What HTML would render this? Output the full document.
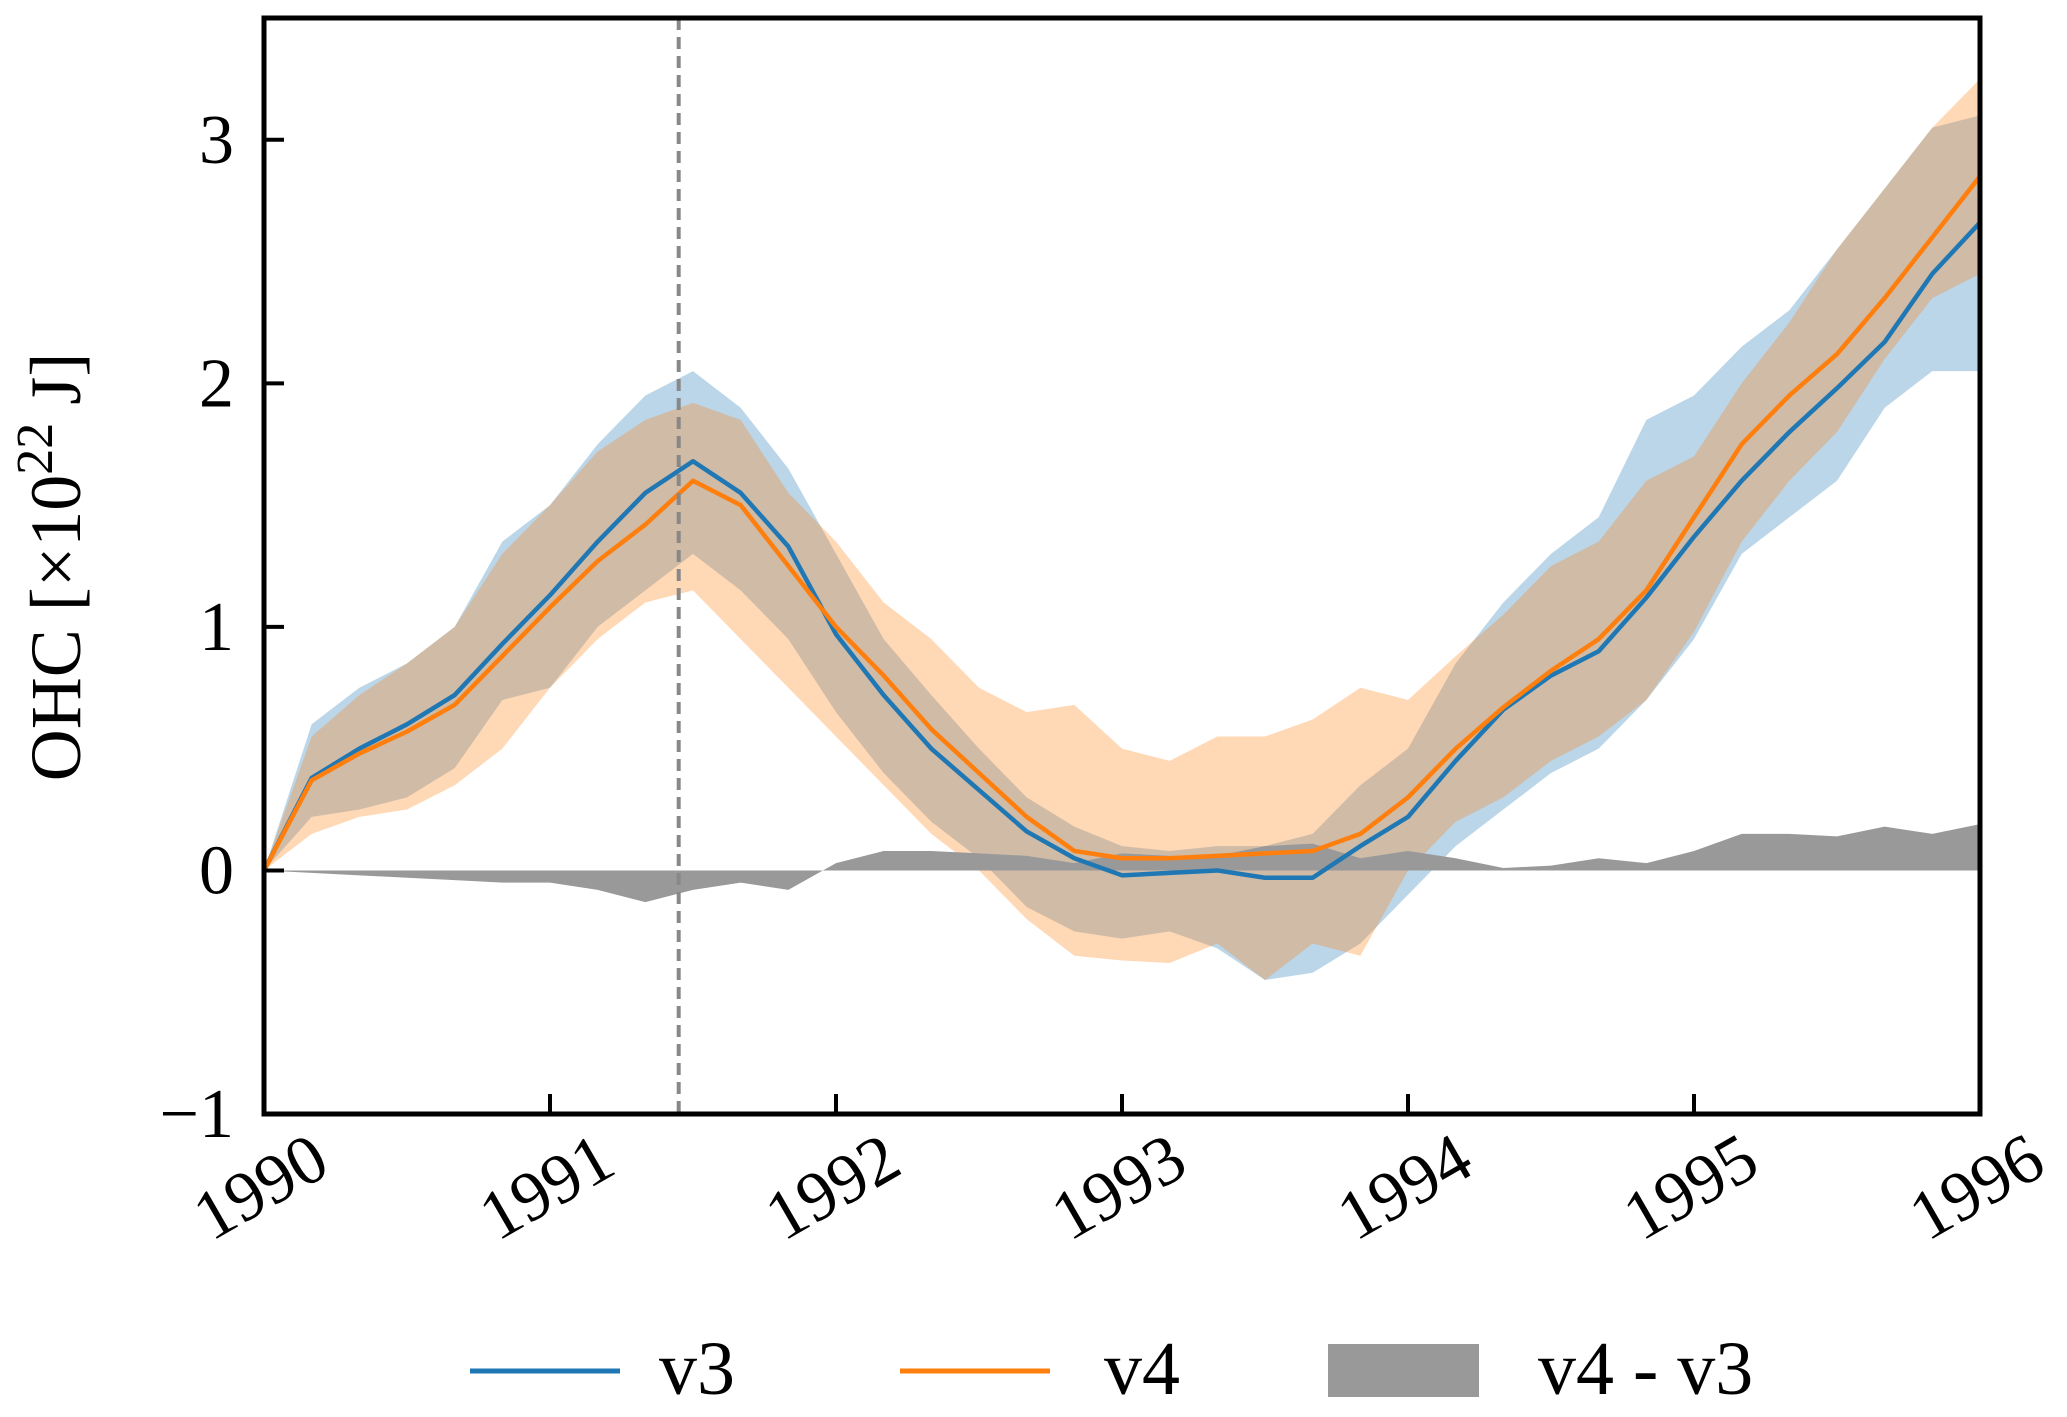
<!DOCTYPE html>
<html><head><meta charset="utf-8"><style>
html,body{margin:0;padding:0;background:#fff;}
svg{display:block;font-family:"Liberation Serif","DejaVu Serif",serif;}
</style></head><body>
<svg id="chart" width="2067" height="1417" viewBox="0 0 2067 1417" xmlns="http://www.w3.org/2000/svg">
<g id="plot"></g>
</svg>
<script>
const months = [0,2,4,6,8,10,12,14,16,18,20,22,24,26,28,30,32,34,36,38,40,42,44,46,48,50,52,54,56,58,60,62,64,66,68,70,72];
const v3 = [0,0.38,0.5,0.6,0.72,0.93,1.13,1.35,1.55,1.68,1.55,1.33,0.97,0.72,0.5,0.33,0.16,0.05,-0.02,-0.01,0.0,-0.03,-0.03,0.1,0.22,0.45,0.66,0.8,0.9,1.12,1.37,1.6,1.8,1.98,2.17,2.45,2.66];
const v4 = [0,0.37,0.48,0.57,0.68,0.88,1.08,1.27,1.42,1.6,1.5,1.25,1.0,0.8,0.58,0.4,0.22,0.08,0.05,0.05,0.06,0.07,0.08,0.15,0.3,0.5,0.67,0.82,0.95,1.15,1.45,1.75,1.95,2.12,2.35,2.6,2.85];
const v3Upper = [0,0.6,0.75,0.85,1.0,1.35,1.5,1.75,1.95,2.05,1.9,1.65,1.3,0.95,0.72,0.5,0.3,0.18,0.1,0.08,0.1,0.1,0.15,0.35,0.5,0.85,1.1,1.3,1.45,1.85,1.95,2.15,2.3,2.55,2.8,3.05,3.1];
const v3Lower = [0,0.22,0.25,0.3,0.42,0.7,0.75,1.0,1.15,1.3,1.15,0.95,0.65,0.4,0.2,0.05,-0.15,-0.25,-0.28,-0.25,-0.32,-0.45,-0.42,-0.3,-0.1,0.1,0.25,0.4,0.5,0.7,0.95,1.3,1.45,1.6,1.9,2.05,2.05];
const v4Upper = [0,0.55,0.72,0.85,1.0,1.3,1.5,1.72,1.85,1.92,1.85,1.55,1.35,1.1,0.95,0.75,0.65,0.68,0.5,0.45,0.55,0.55,0.62,0.75,0.7,0.88,1.05,1.25,1.35,1.6,1.7,2.0,2.25,2.55,2.8,3.05,3.25];
const v4Lower = [0,0.15,0.22,0.25,0.35,0.5,0.75,0.95,1.1,1.15,0.95,0.75,0.55,0.35,0.15,0.0,-0.2,-0.35,-0.37,-0.38,-0.3,-0.45,-0.3,-0.35,0.0,0.2,0.3,0.45,0.55,0.7,0.98,1.35,1.6,1.8,2.1,2.35,2.45];
const xTickLabels = ["1990","1991","1992","1993","1994","1995","1996"];
const yTicks = [-1,0,1,2,3];
const markerMonth = 17.4;

const L=264,R=1980,T=18,B=1114;
const xMin=0,xMax=72,yMin=-1,yMax=3.5;
const X=m=>L+(m-xMin)/(xMax-xMin)*(R-L);
const Y=v=>B-(v-yMin)/(yMax-yMin)*(B-T);
const NS="http://www.w3.org/2000/svg";
const g=document.getElementById('plot');
function mk(tag,attrs,parent){const e=document.createElementNS(NS,tag);for(const k in attrs)e.setAttribute(k,attrs[k]);(parent||g).appendChild(e);return e;}
function band(lo,hi){let d='';months.forEach((m,i)=>{d+=(i?'L':'M')+X(m)+','+Y(hi[i]);});for(let i=months.length-1;i>=0;i--)d+='L'+X(months[i])+','+Y(lo[i]);return d+'Z';}
function line(a){return months.map((m,i)=>(i?'L':'M')+X(m)+','+Y(a[i])).join('');}

let e;
e=mk('path',{d:band(v3Lower,v3Upper),fill:'#1f77b4','fill-opacity':0.3});


e=mk('path',{d:band(v4Lower,v4Upper),fill:'#ff7f0e','fill-opacity':0.3});


const diff=v4.map((v,i)=>v-v3[i]);
const zero=months.map(()=>0);
e=mk('path',{d:band(zero,diff),fill:'#999999',stroke:'none'});


e=mk('path',{d:line(v3),fill:'none',stroke:'#1f77b4','stroke-width':4.5,'stroke-linejoin':'round'});


e=mk('path',{d:line(v4),fill:'none',stroke:'#ff7f0e','stroke-width':4.5,'stroke-linejoin':'round'});


e=mk('line',{x1:X(markerMonth),x2:X(markerMonth),y1:T,y2:B,stroke:'#888','stroke-width':4,'stroke-dasharray':'12,7'});


e=mk('rect',{x:L,y:T,width:R-L,height:B-T,fill:'none',stroke:'#000','stroke-width':5});



xTickLabels.forEach((lab,i)=>{
  const x=X(i*12);
  e=mk('line',{x1:x,x2:x,y1:B,y2:B-20,stroke:'#000','stroke-width':4});
  
  
  const cy=1193;
  e=mk('text',{x:x,y:cy,'font-size':70,'text-anchor':'middle','dominant-baseline':'middle',transform:`rotate(-30 ${x} ${cy})`});
  e.textContent=lab;
  
  
});
yTicks.forEach(v=>{
  const y=Y(v);
  e=mk('line',{x1:L,x2:L+20,y1:y,y2:y,stroke:'#000','stroke-width':4});
  
  
  e=mk('text',{x:L-30,y:y+23,'font-size':70,'text-anchor':'end'});
  e.textContent=v<0?'\u2212'+Math.abs(v):String(v);
  
  
});
e=mk('text',{x:80,y:567,'font-size':72,'text-anchor':'middle',transform:'rotate(-90 80 567)'});
e.innerHTML='OHC [\u00d710<tspan dy="-28" font-size="52">22</tspan><tspan dy="28"> J]</tspan>';



const lg=mk('g',{});


e=mk('line',{x1:470,x2:620,y1:1371,y2:1371,stroke:'#1f77b4','stroke-width':5},lg);


e=mk('text',{x:659,y:1394,'font-size':76},lg);e.textContent='v3';


e=mk('line',{x1:900,x2:1050,y1:1371,y2:1371,stroke:'#ff7f0e','stroke-width':5},lg);


e=mk('text',{x:1104,y:1394,'font-size':76},lg);e.textContent='v4';


e=mk('rect',{x:1328,y:1344,width:151,height:53,fill:'#999999'},lg);


e=mk('text',{x:1538,y:1394,'font-size':76},lg);e.textContent='v4 - v3';


</script>
</body></html>
